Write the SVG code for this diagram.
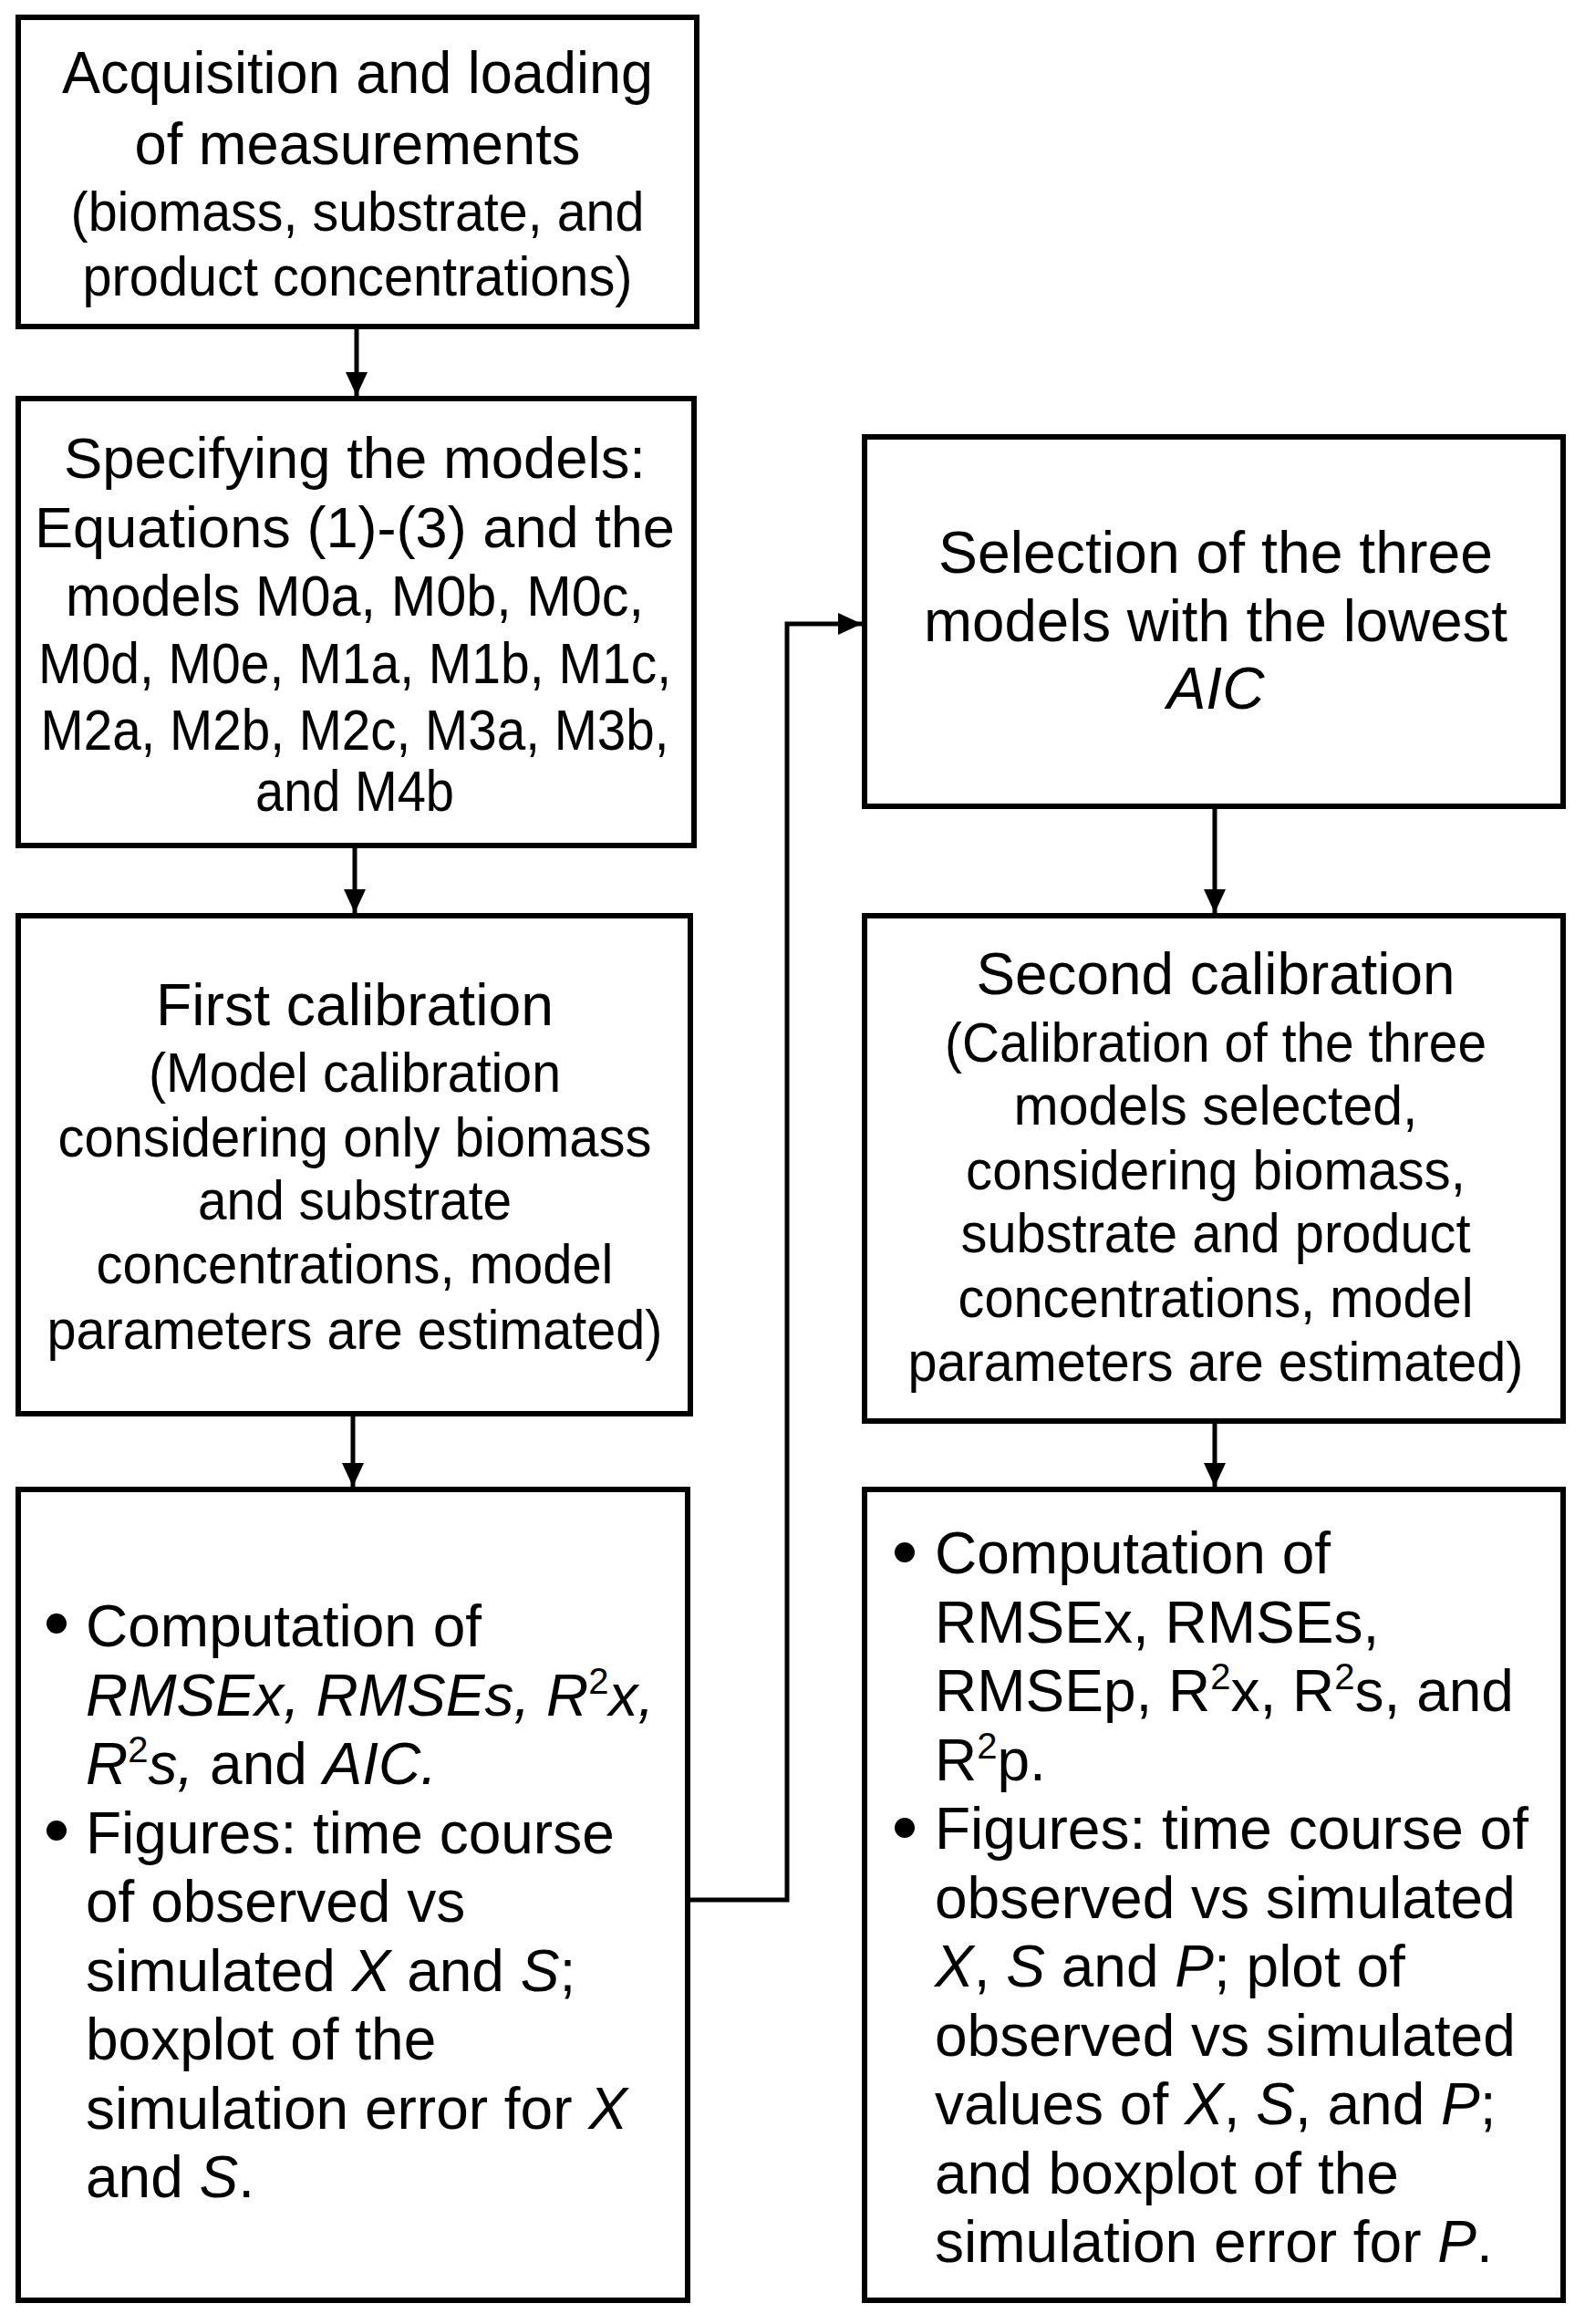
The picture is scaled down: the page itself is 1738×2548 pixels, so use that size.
<svg xmlns="http://www.w3.org/2000/svg" width="1738" height="2548" viewBox="0 0 1738 2548">
<defs>
<style>
.box{fill:#fff;stroke:#000;stroke-width:6}
.ln{fill:none;stroke:#000;stroke-width:5}
text{font-family:"Liberation Sans",Arial,sans-serif;fill:#000}
.c{text-anchor:middle}
.f63{font-size:64px}
.f60{font-size:63px}
.f58{font-size:61px}
.f64{font-size:64px}
.i{font-style:italic}
</style>
<marker id="ah" markerUnits="userSpaceOnUse" markerWidth="26" markerHeight="24" refX="26" refY="12" orient="auto">
<path d="M0,0 L26,12 L0,24 z" fill="#000"/>
</marker>
</defs>
<rect width="1738" height="2548" fill="#fff"/>
<g id="connectors">
<line class="ln" x1="391" y1="358" x2="391" y2="434" marker-end="url(#ah)"/>
<line class="ln" x1="389" y1="927" x2="389" y2="1001" marker-end="url(#ah)"/>
<line class="ln" x1="387" y1="1550" x2="387" y2="1630" marker-end="url(#ah)"/>
<polyline class="ln" points="754,2083 863,2083 863,684 945,684" marker-end="url(#ah)"/>
<line class="ln" x1="1332" y1="884" x2="1332" y2="1001" marker-end="url(#ah)"/>
<line class="ln" x1="1332" y1="1558" x2="1332" y2="1630" marker-end="url(#ah)"/>
</g>
<g id="n1">
<rect class="box" x="20" y="19" width="744" height="339"/>
<text class="c f63" x="392" y="102" textLength="648" lengthAdjust="spacingAndGlyphs">Acquisition and loading</text>
<text class="c f63" x="392" y="180" textLength="489" lengthAdjust="spacingAndGlyphs">of measurements</text>
<text class="c f58" x="392" y="253" textLength="629" lengthAdjust="spacingAndGlyphs">(biomass, substrate, and</text>
<text class="c f58" x="392" y="324" textLength="603" lengthAdjust="spacingAndGlyphs">product concentrations)</text>
</g>
<g id="n2">
<rect class="box" x="20" y="437" width="741" height="490"/>
<text class="c f60" x="389" y="524" textLength="638" lengthAdjust="spacingAndGlyphs">Specifying the models:</text>
<text class="c f60" x="389" y="600" textLength="702" lengthAdjust="spacingAndGlyphs">Equations (1)-(3) and the</text>
<text class="c f60" x="389" y="675" textLength="634" lengthAdjust="spacingAndGlyphs">models M0a, M0b, M0c,</text>
<text class="c f60" x="389" y="749" textLength="694" lengthAdjust="spacingAndGlyphs">M0d, M0e, M1a, M1b, M1c,</text>
<text class="c f60" x="389" y="822" textLength="689" lengthAdjust="spacingAndGlyphs">M2a, M2b, M2c, M3a, M3b,</text>
<text class="c f60" x="389" y="889" textLength="218" lengthAdjust="spacingAndGlyphs">and M4b</text>
</g>
<g id="n3">
<rect class="box" x="20" y="1004" width="737" height="546"/>
<text class="c f64" x="389" y="1124" textLength="436" lengthAdjust="spacingAndGlyphs">First calibration</text>
<text class="c f58" x="389" y="1197" textLength="452" lengthAdjust="spacingAndGlyphs">(Model calibration</text>
<text class="c f58" x="389" y="1268" textLength="651" lengthAdjust="spacingAndGlyphs">considering only biomass</text>
<text class="c f58" x="389" y="1337" textLength="344" lengthAdjust="spacingAndGlyphs">and substrate</text>
<text class="c f58" x="389" y="1407" textLength="567" lengthAdjust="spacingAndGlyphs">concentrations, model</text>
<text class="c f58" x="389" y="1479" textLength="675" lengthAdjust="spacingAndGlyphs">parameters are estimated)</text>
</g>
<g id="n4">
<rect class="box" x="20" y="1633" width="734" height="889"/>
<circle cx="62" cy="1780" r="11"/>
<circle cx="62" cy="2007" r="11"/>
<text class="f64" x="94" y="1805">Computation of</text>
<text class="f64" x="94" y="1880.5"><tspan class="i">RMSEx, RMSEs, R</tspan><tspan dy="-24" font-size="40">2</tspan><tspan dy="24" class="i">x,</tspan></text>
<text class="f64" x="94" y="1956"><tspan class="i">R</tspan><tspan dy="-24" font-size="40">2</tspan><tspan dy="24" class="i">s,</tspan> and <tspan class="i">AIC.</tspan></text>
<text class="f64" x="94" y="2031.5">Figures: time course</text>
<text class="f64" x="94" y="2107">of observed vs</text>
<text class="f64" x="94" y="2182.5">simulated <tspan class="i">X</tspan> and <tspan class="i">S</tspan>;</text>
<text class="f64" x="94" y="2258">boxplot of the</text>
<text class="f64" x="94" y="2333.5">simulation error for <tspan class="i">X</tspan></text>
<text class="f64" x="94" y="2409">and <tspan class="i">S</tspan>.</text>
</g>
<g id="n5">
<rect class="box" x="948" y="479" width="766" height="405"/>
<text class="c f64" x="1333" y="628" textLength="608" lengthAdjust="spacingAndGlyphs">Selection of the three</text>
<text class="c f64" x="1333" y="703" textLength="640" lengthAdjust="spacingAndGlyphs">models with the lowest</text>
<text class="c f64 i" x="1333" y="777">AIC</text>
</g>
<g id="n6">
<rect class="box" x="948" y="1004" width="766" height="554"/>
<text class="c f64" x="1333" y="1090" textLength="525" lengthAdjust="spacingAndGlyphs">Second calibration</text>
<text class="c f58" x="1333" y="1164" textLength="594" lengthAdjust="spacingAndGlyphs">(Calibration of the three</text>
<text class="c f58" x="1333" y="1233" textLength="443" lengthAdjust="spacingAndGlyphs">models selected,</text>
<text class="c f58" x="1333" y="1304" textLength="548" lengthAdjust="spacingAndGlyphs">considering biomass,</text>
<text class="c f58" x="1333" y="1373" textLength="559" lengthAdjust="spacingAndGlyphs">substrate and product</text>
<text class="c f58" x="1333" y="1444" textLength="565" lengthAdjust="spacingAndGlyphs">concentrations, model</text>
<text class="c f58" x="1333" y="1514" textLength="675" lengthAdjust="spacingAndGlyphs">parameters are estimated)</text>
</g>
<g id="n7">
<rect class="box" x="948" y="1633" width="766" height="889"/>
<circle cx="992" cy="1702" r="11"/>
<circle cx="992" cy="2004" r="11"/>
<text class="f64" x="1025" y="1725">Computation of</text>
<text class="f64" x="1025" y="1800.5">RMSEx, RMSEs,</text>
<text class="f64" x="1025" y="1876">RMSEp, R<tspan dy="-24" font-size="40">2</tspan><tspan dy="24">x, R</tspan><tspan dy="-24" font-size="40">2</tspan><tspan dy="24">s, and</tspan></text>
<text class="f64" x="1025" y="1951.5">R<tspan dy="-24" font-size="40">2</tspan><tspan dy="24">p.</tspan></text>
<text class="f64" x="1025" y="2027">Figures: time course of</text>
<text class="f64" x="1025" y="2102.5">observed vs simulated</text>
<text class="f64" x="1025" y="2178"><tspan class="i">X</tspan>, <tspan class="i">S</tspan> and <tspan class="i">P</tspan>; plot of</text>
<text class="f64" x="1025" y="2253.5">observed vs simulated</text>
<text class="f64" x="1025" y="2329">values of <tspan class="i">X</tspan>, <tspan class="i">S</tspan>, and <tspan class="i">P</tspan>;</text>
<text class="f64" x="1025" y="2404.5">and boxplot of the</text>
<text class="f64" x="1025" y="2480">simulation error for <tspan class="i">P</tspan>.</text>
</g>
</svg>
